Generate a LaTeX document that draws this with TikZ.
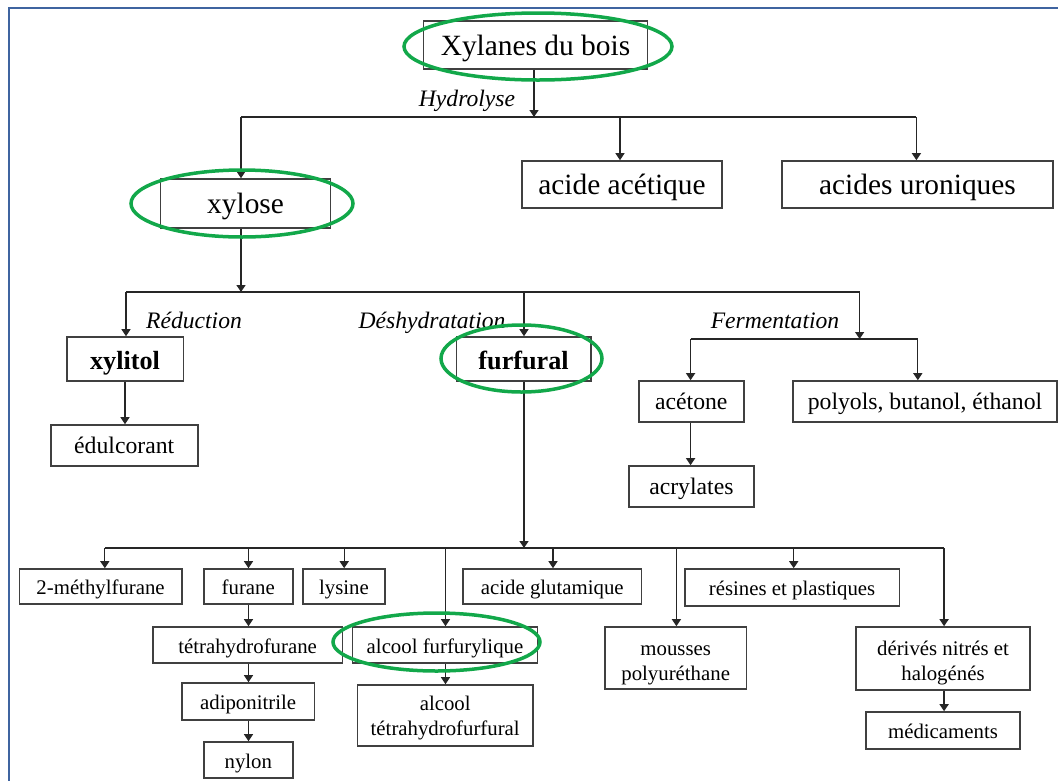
\documentclass[tikz,border=0pt]{standalone}
\usepackage{fontspec}
\setmainfont{Liberation Serif}
\usetikzlibrary{arrows.meta}
\definecolor{frameblue}{HTML}{3F64A0}
\definecolor{ringgreen}{HTML}{12A84A}
\tikzset{
 box/.style={draw=black!75, line width=1.6pt, fill=white, inner sep=0pt, align=center},
 big/.style={font=\fontsize{29.4}{34}\selectfont, text height=20pt, text depth=0pt},
 mid/.style={font=\fontsize{23.7}{27}\selectfont, text height=16.5pt, text depth=0pt},
 midb/.style={font=\fontsize{26.2}{30}\selectfont\bfseries, text height=20.6pt, text depth=0pt},
 small/.style={font=\fontsize{20.8}{24.2}\selectfont, text height=16pt, text depth=0pt},
 twoline/.style={text height=#1, text depth=0pt},
 lab/.style={font=\fontsize{23.6}{27}\selectfont\itshape, inner sep=0pt, anchor=base},
 conn/.style={draw=black!85, line width=1.3pt},
 arr/.style={conn, -{Triangle[length=7pt,width=9pt]}},
 ring/.style={draw=ringgreen, line width=3.5pt},
}
\newcommand{\twol}[2]{\begin{tabular}[b]{@{}c@{}}#1\\#2\end{tabular}}
\begin{document}
\begin{tikzpicture}[x=1pt,y=-1pt]
\clip (0,0) rectangle (1058,780);
\fill[white] (0,0) rectangle (1058,780);
\draw[frameblue, line width=2.2pt] (9,781) -- (9,8) -- (1059,8);

% nodes
\node[box,big,minimum width=224pt,minimum height=48pt] (xyl) at (535.5,45) {Xylanes du bois};
\node[box,big,minimum width=170pt,minimum height=49pt] (xylose) at (245.6,203.5) {xylose};
\node[box,big,minimum width=200pt,minimum height=47pt] (acet) at (622,184.5) {acide acétique};
\node[box,big,minimum width=271pt,minimum height=47pt] (uron) at (917.5,184.5) {acides uroniques};

\node[box,midb,minimum width=116.6pt,minimum height=44pt] (xylitol) at (125,359) {xylitol};
\node[box,midb,minimum width=134.5pt,minimum height=44pt] (furf) at (523.6,359) {furfural};
\node[box,mid,minimum width=147pt,minimum height=41pt] (edul) at (124.2,445.5) {édulcorant};
\node[box,mid,minimum width=104.8pt,minimum height=41pt] (acetone) at (691.3,401.5) {acétone};
\node[box,mid,minimum width=264pt,minimum height=41pt] (polyols) at (925,401.5) {polyols, butanol, éthanol};
\node[box,mid,minimum width=125.4pt,minimum height=41pt] (acryl) at (691.4,486.5) {acrylates};

\node[box,small,minimum width=162.6pt,minimum height=35pt] (mfur) at (100.6,586.5) {2-méthylfurane};
\node[box,small,minimum width=88.9pt,minimum height=35pt] (furane) at (248.3,586.5) {furane};
\node[box,small,minimum width=81.5pt,minimum height=35pt] (lysine) at (344,586.5) {lysine};
\node[box,small,minimum width=178.6pt,minimum height=35pt] (glut) at (552.3,586.5) {acide glutamique};
\node[box,small,minimum width=214.7pt,minimum height=37pt] (resines) at (792.1,587.5) {résines et plastiques};
\node[box,small,minimum width=189.7pt,minimum height=36pt] (thf) at (247.6,645) {tétrahydrofurane};
\node[box,small,minimum width=184.8pt,minimum height=36pt] (alcf) at (445,645) {alcool furfurylique};
\node[box,small,twoline=44pt,minimum width=141.4pt,minimum height=62pt] (mousses) at (675.7,658) {\twol{mousses}{polyuréthane}};
\node[box,small,twoline=43pt,minimum width=173.5pt,minimum height=63pt] (derives) at (943,658.5) {\twol{dérivés nitrés et}{halogénés}};
\node[box,small,minimum width=132.5pt,minimum height=37pt] (adipo) at (248.1,701.5) {adiponitrile};
\node[box,small,twoline=39pt,minimum width=175.8pt,minimum height=61pt] (alct) at (445.2,715.5) {\twol{alcool}{tétrahydrofurfural}};
\node[box,small,minimum width=154.5pt,minimum height=37pt] (medic) at (943,730.5) {médicaments};
\node[box,small,minimum width=88.9pt,minimum height=36pt] (nylon) at (248.3,760) {nylon};

% labels
\node[lab] (lhyd) at (467,106.7) {Hydrolyse};
\node[lab] (lred) at (194,328) {Réduction};
\node[lab] (ldes) at (432,328) {Déshydratation};
\node[lab] (lfer) at (775,328) {Fermentation};

% bus coordinates
\coordinate (b1) at (534,117);
\coordinate (h1L) at (241,117);
\coordinate (h1A) at (620,117);
\coordinate (h1R) at (916.4,117);
\coordinate (b2) at (241,292);
\coordinate (h2L) at (126,292);
\coordinate (h2F) at (524,292);
\coordinate (h2R) at (859.6,292);
\coordinate (h3) at (859.6,339);
\coordinate (h3L) at (690.6,339);
\coordinate (h3R) at (917.8,339);
\coordinate (b4) at (524,548);
\coordinate (h4L) at (104.8,548);
\coordinate (h4F) at (248.5,548);
\coordinate (h4Y) at (344.2,548);
\coordinate (h4A) at (445.5,548);
\coordinate (h4G) at (553,548);
\coordinate (h4M) at (676.4,548);
\coordinate (h4S) at (793.7,548);
\coordinate (h4R) at (944.1,548);

% connectors level 1
\draw[arr] (xyl.south -| b1) -- (b1);
\draw[conn] (h1L) -- (h1R);
\draw[arr] (h1L) -- (h1L |- xylose.north);
\draw[arr] (h1A) -- (h1A |- acet.north);
\draw[arr] (h1R) -- (h1R |- uron.north);

% level 2
\draw[arr] (xylose.south -| b2) -- (b2);
\draw[conn] (h2L) -- (h2R);
\draw[arr] (h2L) -- (h2L |- xylitol.north);
\draw[arr] (h2F) -- (h2F |- furf.north);
\draw[arr] (h2R) -- (h3);
\draw[conn] (h3L) -- (h3R);
\draw[arr] (h3L) -- (h3L |- acetone.north);
\draw[arr] (h3R) -- (h3R |- polyols.north);
\draw[arr] (xylitol.south) -- (xylitol.south |- edul.north);
\draw[arr] (acetone.south -| h3L) -- (h3L |- acryl.north);

% level 3
\draw[arr] (furf.south -| b4) -- (b4);
\draw[conn] (h4L) -- (h4R);
\draw[arr] (h4L) -- (h4L |- mfur.north);
\draw[arr] (h4F) -- (h4F |- furane.north);
\draw[arr] (h4Y) -- (h4Y |- lysine.north);
\draw[arr] (h4A) -- (h4A |- alcf.north);
\draw[arr] (h4G) -- (h4G |- glut.north);
\draw[arr] (h4M) -- (h4M |- mousses.north);
\draw[arr] (h4S) -- (h4S |- resines.north);
\draw[arr] (h4R) -- (h4R |- derives.north);
\draw[arr] (furane.south -| h4F) -- (h4F |- thf.north);
\draw[arr] (thf.south -| h4F) -- (h4F |- adipo.north);
\draw[arr] (adipo.south -| h4F) -- (h4F |- nylon.north);
\draw[arr] (alcf.south -| h4A) -- (h4A |- alct.north);
\draw[arr] (derives.south -| h4R) -- (h4R |- medic.north);

% green rings
\draw[ring] (538,46.5) ellipse [x radius=134, y radius=33.5];
\draw[ring] (242,203.5) ellipse [x radius=111, y radius=33.5];
\draw[ring] (521.5,358.5) ellipse [x radius=80.5, y radius=33.5];
\draw[ring] (436.5,642) ellipse [x radius=103.5, y radius=29];
\end{tikzpicture}
\end{document}
